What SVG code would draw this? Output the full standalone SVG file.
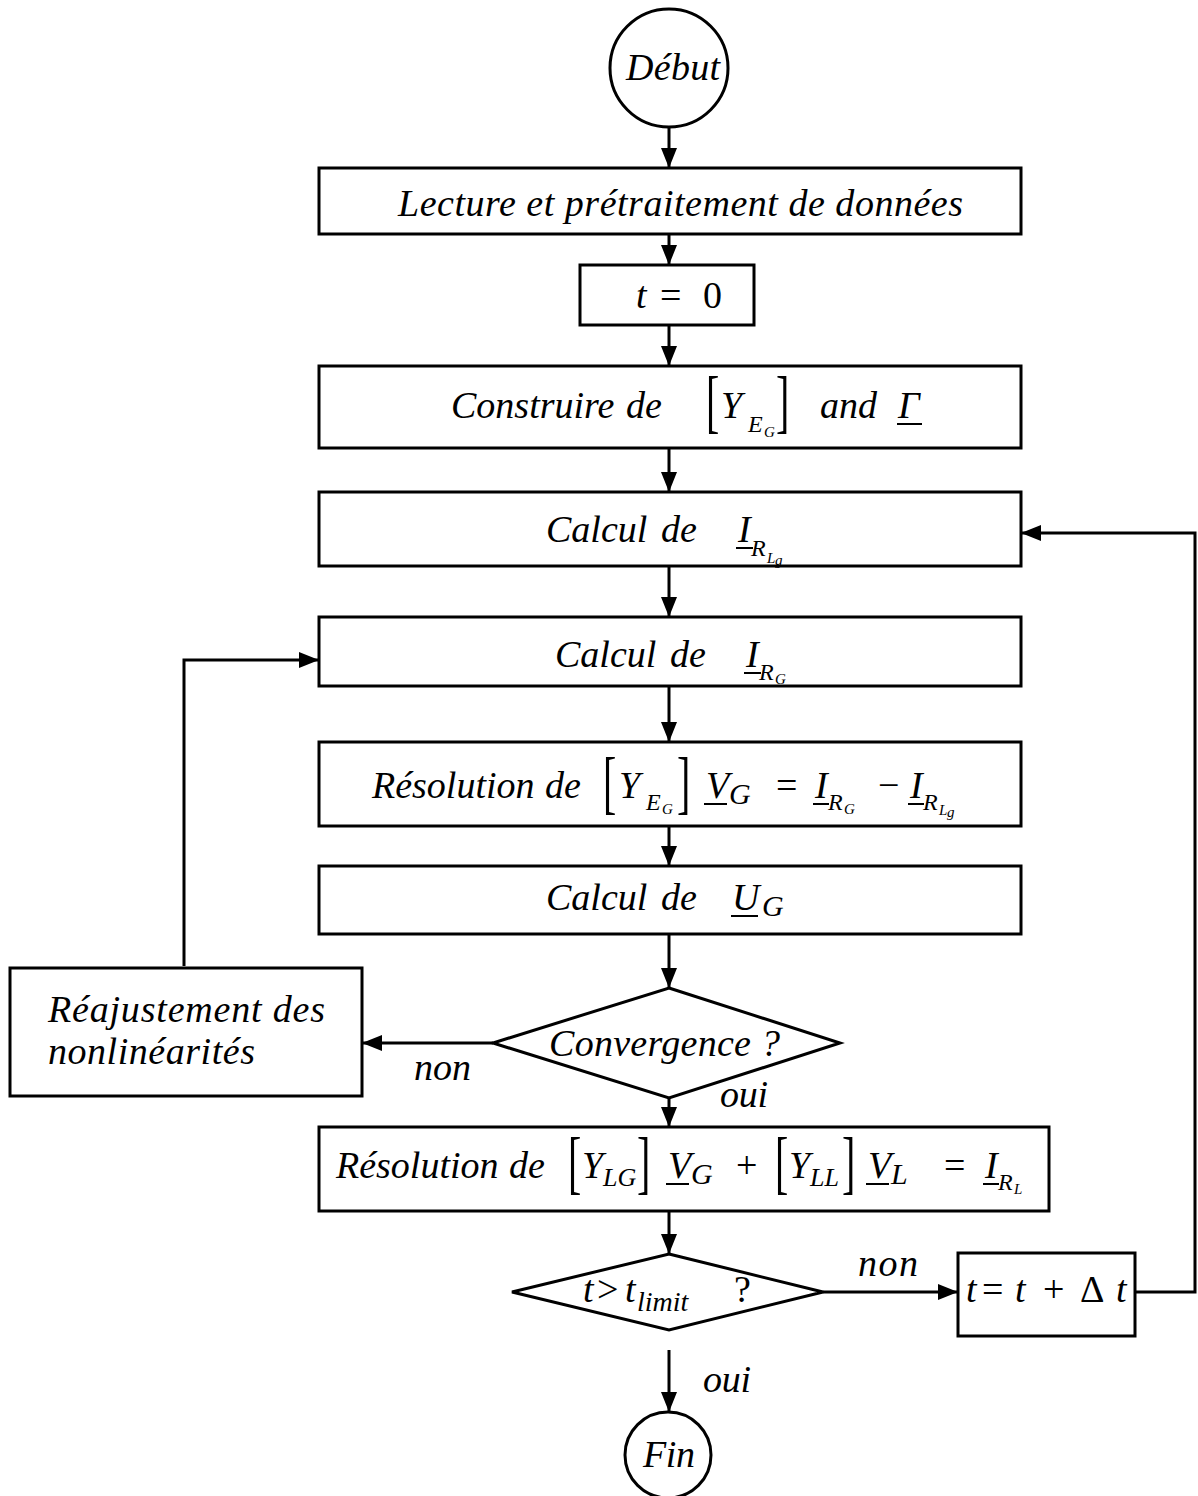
<svg xmlns="http://www.w3.org/2000/svg" width="1198" height="1496" viewBox="0 0 1198 1496">
<style>
.n{fill:#fff;stroke:#000;stroke-width:3}
.c{fill:none;stroke:#000;stroke-width:3}
text{font-family:"Liberation Serif","Times New Roman",serif;font-size:38px;fill:#000}
.i{font-style:italic}
.u{font-style:normal}
.bk{font-size:40px;font-style:normal}
.s{font-size:24px;font-style:italic}
.ss{font-size:15px;font-style:italic}
.m{font-size:30px;font-style:italic}
.ul{stroke:#000;stroke-width:2}
</style>
<defs>
<marker id="ah" markerWidth="20" markerHeight="16" refX="20" refY="8" orient="auto" markerUnits="userSpaceOnUse"><path d="M0,0 L20,8 L0,16 Z" fill="#000"/></marker>
</defs>
<rect width="1198" height="1496" fill="#fff"/>
<g id="connectors">
<line class="c" x1="669" y1="127" x2="669" y2="168" marker-end="url(#ah)"/>
<line class="c" x1="669" y1="234" x2="669" y2="265" marker-end="url(#ah)"/>
<line class="c" x1="669" y1="325" x2="669" y2="366" marker-end="url(#ah)"/>
<line class="c" x1="669" y1="448" x2="669" y2="492" marker-end="url(#ah)"/>
<line class="c" x1="669" y1="566" x2="669" y2="617" marker-end="url(#ah)"/>
<line class="c" x1="669" y1="686" x2="669" y2="742" marker-end="url(#ah)"/>
<line class="c" x1="669" y1="826" x2="669" y2="866" marker-end="url(#ah)"/>
<line class="c" x1="669" y1="934" x2="669" y2="988" marker-end="url(#ah)"/>
<line class="c" x1="669" y1="1098" x2="669" y2="1127" marker-end="url(#ah)"/>
<line class="c" x1="669" y1="1211" x2="669" y2="1254" marker-end="url(#ah)"/>
<line class="c" x1="669" y1="1350" x2="669" y2="1412" marker-end="url(#ah)"/>
<line class="c" x1="493" y1="1043" x2="362" y2="1043" marker-end="url(#ah)"/>
<polyline class="c" points="184,966 184,660 319,660" marker-end="url(#ah)"/>
<line class="c" x1="823" y1="1292" x2="958" y2="1292" marker-end="url(#ah)"/>
<polyline class="c" points="1135,1292 1195,1292 1195,533 1021,533" marker-end="url(#ah)"/>
<text class="i" x="414" y="1080" textLength="57">non</text>
<text class="i" x="720" y="1107" textLength="48">oui</text>
<text class="i" x="858" y="1276" textLength="60">non</text>
<text class="i" x="703" y="1392" textLength="48">oui</text>
</g>
<g id="debut">
<circle class="n" cx="669" cy="68" r="59"/>
<text class="i" x="626" y="80" textLength="94">Début</text>
</g>
<g id="lecture">
<rect class="n" x="319" y="168" width="702" height="66"/>
<text class="i" x="398" y="216" textLength="565">Lecture et prétraitement de données</text>
</g>
<g id="t0">
<rect class="n" x="580" y="265" width="174" height="60"/>
<text x="636" y="308"><tspan class="i">t</tspan><tspan x="660">=</tspan><tspan x="703">0</tspan></text>
</g>
<g id="construire">
<rect class="n" x="319" y="366" width="702" height="82"/>
<text x="451" y="418"><tspan class="i">Construire</tspan><tspan class="i" x="626">de</tspan><tspan class="i" x="721">Y</tspan><tspan class="s" x="748" y="432">E</tspan><tspan class="ss" x="764" y="437">G</tspan><tspan class="i" x="820" y="418">and</tspan><tspan class="i" x="898" y="418">Γ</tspan></text>
<text class="bk" transform="translate(706,425) scale(1,1.75)">[</text>
<text class="bk" transform="translate(776,425) scale(1,1.75)">]</text>
<line class="ul" x1="897" y1="424" x2="922" y2="424"/>
</g>
<g id="calcul-irlg">
<rect class="n" x="319" y="492" width="702" height="74"/>
<text x="546" y="542"><tspan class="i">Calcul</tspan><tspan class="i" x="661">de</tspan><tspan class="i" x="738">I</tspan><tspan class="s" x="751" y="556">R</tspan><tspan class="ss" x="767" y="563">L</tspan><tspan class="ss" x="775" y="565">g</tspan></text>
<line class="ul" x1="736" y1="548" x2="753" y2="548"/>
</g>
<g id="calcul-irg">
<rect class="n" x="319" y="617" width="702" height="69"/>
<text x="555" y="667"><tspan class="i">Calcul</tspan><tspan class="i" x="670">de</tspan><tspan class="i" x="746">I</tspan><tspan class="s" x="759" y="680">R</tspan><tspan class="ss" x="775" y="684">G</tspan></text>
<line class="ul" x1="744" y1="673" x2="761" y2="673"/>
</g>
<g id="resolution-g">
<rect class="n" x="319" y="742" width="702" height="84"/>
<text x="372" y="798"><tspan class="i">Résolution</tspan><tspan class="i" x="545">de</tspan><tspan class="i" x="619">Y</tspan><tspan class="s" x="646" y="810">E</tspan><tspan class="ss" x="662" y="814">G</tspan><tspan class="i" x="706" y="798">V</tspan><tspan class="m" x="729" y="804">G</tspan><tspan class="u" x="776" y="798">=</tspan><tspan class="i" x="815" y="798">I</tspan><tspan class="s" x="828" y="810">R</tspan><tspan class="ss" x="844" y="814">G</tspan><tspan class="u" x="878" y="798">−</tspan><tspan class="i" x="910" y="798">I</tspan><tspan class="s" x="923" y="810">R</tspan><tspan class="ss" x="939" y="815">L</tspan><tspan class="ss" x="947" y="817">g</tspan></text>
<text class="bk" transform="translate(603,806) scale(1,1.75)">[</text>
<text class="bk" transform="translate(677,806) scale(1,1.75)">]</text>
<line class="ul" x1="704" y1="804" x2="727" y2="804"/>
<line class="ul" x1="813" y1="804" x2="829" y2="804"/>
<line class="ul" x1="908" y1="804" x2="924" y2="804"/>
</g>
<g id="calcul-ug">
<rect class="n" x="319" y="866" width="702" height="68"/>
<text x="546" y="910"><tspan class="i">Calcul</tspan><tspan class="i" x="661">de</tspan><tspan class="i" x="732">U</tspan><tspan class="m" x="762" y="916">G</tspan></text>
<line class="ul" x1="731" y1="916" x2="758" y2="916"/>
</g>
<g id="convergence">
<polygon class="n" points="669,988 840,1043 669,1098 493,1043"/>
<text class="i" x="549" y="1056" textLength="231">Convergence ?</text>
</g>
<g id="reajustement">
<rect class="n" x="10" y="968" width="352" height="128"/>
<text class="i" x="48" y="1022" textLength="277">Réajustement des</text>
<text class="i" x="48" y="1064" textLength="207">nonlinéarités</text>
</g>
<g id="resolution-l">
<rect class="n" x="319" y="1127" width="730" height="84"/>
<text x="336" y="1178"><tspan class="i">Résolution</tspan><tspan class="i" x="509">de</tspan><tspan class="i" x="582" y="1178">Y</tspan><tspan class="i" x="603" y="1186" style="font-size:26px">LG</tspan><tspan class="i" x="668" y="1178">V</tspan><tspan class="m" x="691" y="1184">G</tspan><tspan class="u" x="736" y="1178">+</tspan><tspan class="i" x="789" y="1178">Y</tspan><tspan class="i" x="810" y="1186" style="font-size:26px">LL</tspan><tspan class="i" x="868" y="1178">V</tspan><tspan class="m" x="891" y="1184">L</tspan><tspan class="u" x="944" y="1178">=</tspan><tspan class="i" x="985" y="1178">I</tspan><tspan class="s" x="998" y="1190">R</tspan><tspan class="ss" x="1014" y="1194">L</tspan></text>
<text class="bk" transform="translate(568,1186) scale(1,1.75)">[</text>
<text class="bk" transform="translate(637,1186) scale(1,1.75)">]</text>
<text class="bk" transform="translate(775,1186) scale(1,1.75)">[</text>
<text class="bk" transform="translate(842,1186) scale(1,1.75)">]</text>
<line class="ul" x1="666" y1="1184" x2="689" y2="1184"/>
<line class="ul" x1="866" y1="1184" x2="889" y2="1184"/>
<line class="ul" x1="983" y1="1184" x2="999" y2="1184"/>
</g>
<g id="tlimit">
<polygon class="n" points="669,1254 823,1292 669,1330 512,1292"/>
<text x="583" y="1302"><tspan class="i">t</tspan><tspan x="597">&gt;</tspan><tspan class="i" x="625">t</tspan><tspan class="i" x="637" y="1311" style="font-size:28px">limit</tspan><tspan x="734" y="1302">?</tspan></text>
</g>
<g id="increment">
<rect class="n" x="958" y="1253" width="177" height="83"/>
<text x="966" y="1302"><tspan class="i">t</tspan><tspan x="982">=</tspan><tspan class="i" x="1015">t</tspan><tspan x="1043">+</tspan><tspan x="1080">Δ</tspan><tspan class="i" x="1116">t</tspan></text>
</g>
<g id="fin">
<circle class="n" cx="668" cy="1455" r="43"/>
<text class="i" x="643" y="1467" textLength="52">Fin</text>
</g>
</svg>
